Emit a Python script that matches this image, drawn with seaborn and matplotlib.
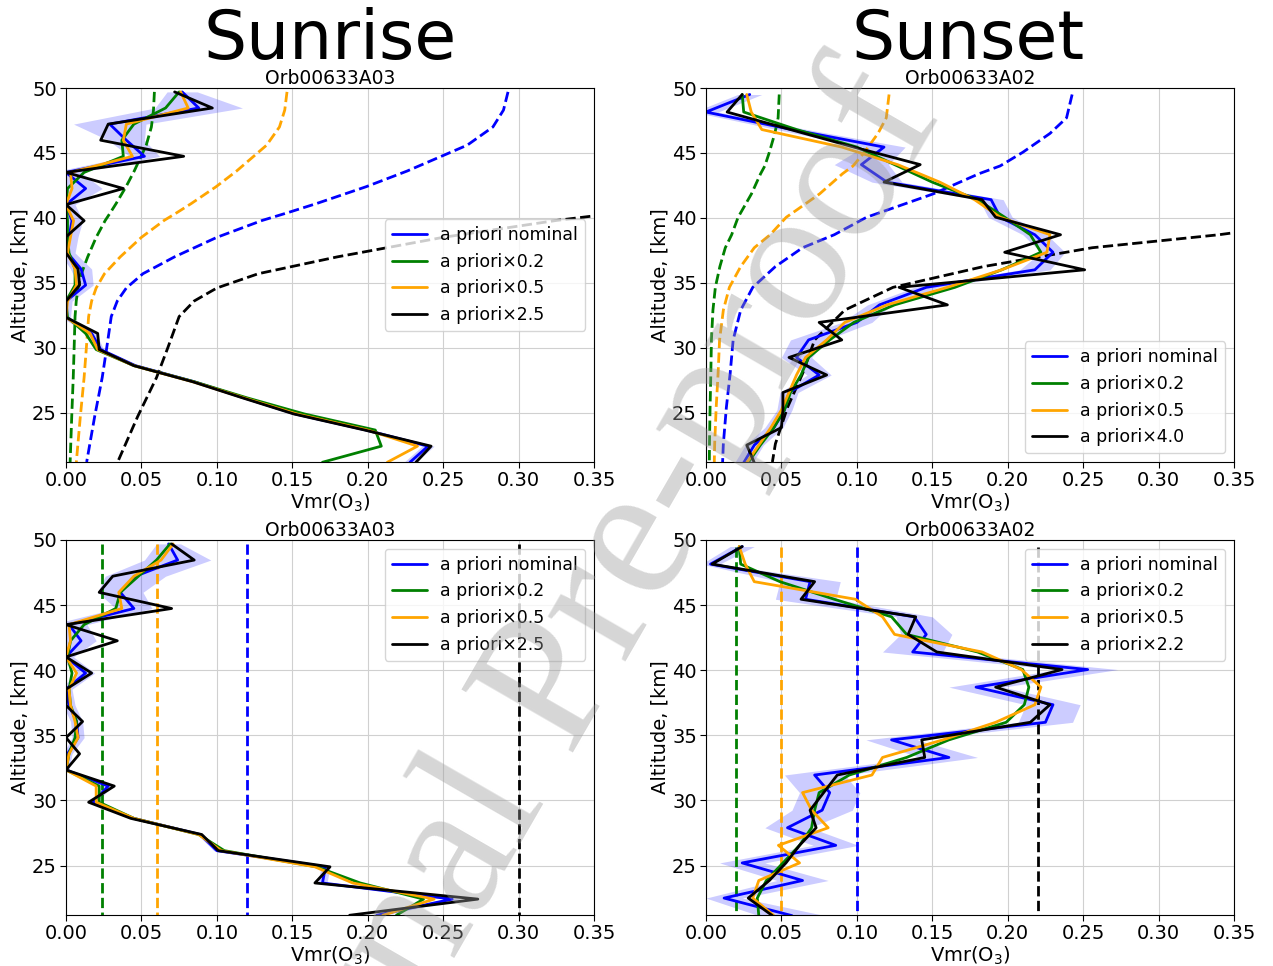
"""Ozone retrievals for orbit 633: sunrise (A03) vs sunset (A02),
with a priori profiles scaled by different factors.
"""
import matplotlib
matplotlib.use('Agg')
import matplotlib.pyplot as plt
import seaborn as sns
import numpy as np

# ---- altitude grids (km) ----
alt_a03 = [49.70, 48.46, 47.22, 45.98, 44.74, 43.50, 42.26, 41.02, 39.78, 38.54, 37.30, 36.06,
           34.82, 33.58, 32.34, 31.10, 29.86, 28.62, 27.38, 26.14, 24.90, 23.66, 22.42, 21.18]
alt_a02 = [49.50, 48.15, 46.80, 45.45, 44.10, 42.75, 41.40, 40.05, 38.70, 37.35, 36.00,
           34.65, 33.30, 31.95, 30.60, 29.25, 27.90, 26.55, 25.20, 23.85, 22.50, 21.15]

# ---- a priori profiles ----
apr_a03_alt = [49.7, 48.3, 47.0, 45.6, 44.8, 43.6, 42.4, 41.1, 40.4, 39.8, 38.5, 37.0,
               35.7, 34.6, 33.6, 32.4, 30.0, 27.7, 24.7, 21.2]
apr_a03_vmr = [0.293, 0.290, 0.283, 0.266, 0.250, 0.226, 0.199, 0.166, 0.147, 0.130, 0.100, 0.072,
               0.051, 0.040, 0.034, 0.030, 0.027, 0.024, 0.019, 0.0137]
apr_a02_alt = [49.5, 47.7, 46.5, 45.05, 44.0, 43.4, 41.85, 40.8, 40.05, 38.7, 37.7, 36.25,
               34.65, 32.9, 30.6, 28.0, 25.4, 22.6, 21.2]
apr_a02_vmr = [0.2427, 0.239, 0.228, 0.210, 0.195, 0.181, 0.1507, 0.125, 0.1065, 0.085, 0.064, 0.046,
               0.031, 0.023, 0.018, 0.016, 0.0135, 0.0115, 0.011]
apr_const_sunrise = 0.12
apr_const_sunset = 0.10

labels_sr = ['a priori nominal', 'a priori×0.2', 'a priori×0.5', 'a priori×2.5']
factors_sr = [1.0, 0.2, 0.5, 2.5]
labels_ss_top = ['a priori nominal', 'a priori×0.2', 'a priori×0.5', 'a priori×4.0']
factors_ss_top = [1.0, 0.2, 0.5, 4.0]
labels_ss_bot = ['a priori nominal', 'a priori×0.2', 'a priori×0.5', 'a priori×2.2']
factors_ss_bot = [1.0, 0.2, 0.5, 2.2]
colors = ['blue', 'green', 'orange', 'black']

# ---- sunrise, profile a priori (top left) ----
sr_top_nom = [0.077, 0.088, 0.029, 0.040, 0.052, 0.000, 0.013, 0.000, 0.004, 0.002, 0.001, 0.010,
              0.013, 0.000, 0.000, 0.017, 0.023, 0.046, 0.085, 0.118, 0.152, 0.199, 0.240, 0.228]
sr_top_x02 = [0.075, 0.066, 0.045, 0.037, 0.038, 0.012, 0.001, 0.000, 0.001, 0.001, 0.002, 0.006,
              0.006, 0.000, 0.001, 0.013, 0.020, 0.045, 0.085, 0.120, 0.158, 0.205, 0.209, 0.170]
sr_top_x05 = [0.076, 0.081, 0.040, 0.038, 0.044, 0.003, 0.004, 0.000, 0.005, 0.003, 0.001, 0.006,
              0.007, 0.001, 0.000, 0.016, 0.021, 0.045, 0.084, 0.118, 0.153, 0.200, 0.233, 0.213]
sr_top_x25 = [0.072, 0.097, 0.028, 0.023, 0.078, 0.000, 0.038, 0.000, 0.012, 0.000, 0.000, 0.008,
              0.009, 0.000, 0.000, 0.021, 0.022, 0.045, 0.084, 0.117, 0.151, 0.198, 0.242, 0.232]
sr_top_err = [0.010, 0.029, 0.024, 0.012, 0.010, 0.010, 0.011, 0.006, 0.007, 0.006, 0.005, 0.007,
              0.005, 0.004, 0.003, 0.003, 0.002, 0.002, 0.002, 0.002, 0.003, 0.003, 0.004, 0.004]

# ---- sunrise, constant a priori (bottom left) ----
sr_bot_nom = [0.068, 0.074, 0.046, 0.036, 0.045, 0.002, 0.010, 0.000, 0.013, 0.000, 0.002, 0.007,
              0.008, 0.001, 0.000, 0.028, 0.018, 0.045, 0.089, 0.100, 0.172, 0.170, 0.256, 0.206]
sr_bot_x02 = [0.069, 0.060, 0.048, 0.036, 0.033, 0.012, 0.003, 0.001, 0.004, 0.002, 0.003, 0.007,
              0.006, 0.002, 0.000, 0.022, 0.022, 0.045, 0.088, 0.105, 0.166, 0.195, 0.237, 0.219]
sr_bot_x05 = [0.071, 0.063, 0.045, 0.035, 0.037, 0.002, 0.003, 0.000, 0.007, 0.002, 0.003, 0.006,
              0.008, 0.002, 0.000, 0.020, 0.020, 0.045, 0.088, 0.103, 0.165, 0.190, 0.244, 0.210]
sr_bot_x25 = [0.070, 0.085, 0.031, 0.022, 0.070, 0.000, 0.034, 0.000, 0.017, 0.000, 0.000, 0.011,
              0.000, 0.009, 0.000, 0.032, 0.015, 0.043, 0.090, 0.101, 0.175, 0.165, 0.273, 0.188]
sr_bot_err = [0.008, 0.022, 0.020, 0.015, 0.012, 0.012, 0.010, 0.005, 0.006, 0.004, 0.004, 0.004,
              0.004, 0.003, 0.002, 0.003, 0.002, 0.002, 0.002, 0.002, 0.003, 0.003, 0.005, 0.005]

# ---- sunset, profile a priori (top right) ----
ss_top_nom = [0.029, 0.000, 0.057, 0.118, 0.103, 0.120, 0.189, 0.195, 0.218, 0.230, 0.218,
              0.146, 0.115, 0.100, 0.068, 0.060, 0.075, 0.055, 0.052, 0.045, 0.032, 0.025]
ss_top_x02 = [0.024, 0.025, 0.060, 0.100, 0.125, 0.150, 0.180, 0.198, 0.215, 0.222, 0.196,
              0.165, 0.125, 0.098, 0.082, 0.068, 0.063, 0.056, 0.052, 0.045, 0.036, 0.028]
ss_top_x05 = [0.027, 0.030, 0.037, 0.090, 0.127, 0.155, 0.178, 0.195, 0.228, 0.226, 0.196,
              0.160, 0.120, 0.092, 0.080, 0.066, 0.060, 0.055, 0.050, 0.043, 0.035, 0.027]
ss_top_x40 = [0.024, 0.014, 0.056, 0.098, 0.142, 0.118, 0.183, 0.192, 0.235, 0.198, 0.251,
              0.128, 0.160, 0.075, 0.090, 0.055, 0.080, 0.051, 0.051, 0.050, 0.027, 0.032]
ss_top_err = [0.008, 0.008, 0.010, 0.014, 0.018, 0.010, 0.008, 0.008, 0.008, 0.008, 0.010,
              0.008, 0.008, 0.010, 0.012, 0.010, 0.008, 0.006, 0.005, 0.006, 0.006, 0.006]

# ---- sunset, constant a priori (bottom right) ----
ss_bot_nom = [0.024, 0.003, 0.069, 0.066, 0.138, 0.146, 0.137, 0.253, 0.179, 0.230, 0.225,
              0.123, 0.161, 0.072, 0.082, 0.077, 0.054, 0.086, 0.024, 0.064, 0.012, 0.057]
ss_bot_x02 = [0.022, 0.023, 0.049, 0.085, 0.123, 0.133, 0.180, 0.210, 0.214, 0.211, 0.199,
              0.161, 0.133, 0.095, 0.075, 0.072, 0.070, 0.062, 0.051, 0.040, 0.034, 0.035]
ss_bot_x05 = [0.022, 0.026, 0.032, 0.099, 0.117, 0.125, 0.183, 0.209, 0.222, 0.218, 0.192,
              0.157, 0.117, 0.110, 0.064, 0.070, 0.081, 0.048, 0.062, 0.035, 0.031, 0.045]
ss_bot_x22 = [0.024, 0.004, 0.072, 0.063, 0.139, 0.134, 0.153, 0.236, 0.192, 0.228, 0.215,
              0.143, 0.145, 0.087, 0.078, 0.069, 0.073, 0.062, 0.053, 0.042, 0.028, 0.044]
ss_bot_err = [0.008, 0.006, 0.020, 0.020, 0.012, 0.017, 0.020, 0.020, 0.018, 0.018, 0.018,
              0.017, 0.019, 0.020, 0.020, 0.020, 0.015, 0.015, 0.015, 0.017, 0.012, 0.022]

sns.set_style('ticks', {'axes.grid': True, 'grid.color': '#d0d0d0', 'axes.edgecolor': 'black',
                        'text.color': 'black', 'axes.labelcolor': 'black',
                        'xtick.color': 'black', 'ytick.color': 'black'})
plt.rcParams['font.family'] = ['DejaVu Sans']

W, H = 1273, 966
fig = plt.figure(figsize=(W / 100, H / 100), dpi=100)


def px_axes(left, top, right, bottom):
    return fig.add_axes([left / W, 1 - bottom / H, (right - left) / W, (bottom - top) / H])


def draw_panel(ax, title, alt, retrievals, err, labels, apr_alt, apr_vmr, factors, legend_loc):
    nom = np.array(retrievals[0])
    ax.fill_betweenx(alt, nom - np.array(err), nom + np.array(err), color='blue', alpha=0.2, lw=0)
    for f, c in zip(factors, colors):
        sns.lineplot(x=np.array(apr_vmr) * f, y=apr_alt, sort=False, estimator=None,
                     color=c, lw=2, linestyle='--', ax=ax)
    for vals, c, lab in zip(retrievals, colors, labels):
        sns.lineplot(x=vals, y=alt, sort=False, estimator=None, color=c, lw=2, label=lab, ax=ax)
    ax.set_xlim(0, 0.35)
    ax.set_ylim(21.2, 50)
    ax.set_xticks(np.arange(0, 0.351, 0.05))
    ax.set_yticks([25, 30, 35, 40, 45, 50])
    ax.tick_params(labelsize=14, length=4, pad=2.5)
    ax.set_xlabel('Vmr(O$_3$)', fontsize=14, labelpad=1)
    ax.set_ylabel('Altitude, [km]', fontsize=14, labelpad=2)
    ax.set_title(title, fontsize=13.5, pad=3)
    ax.legend(loc=legend_loc, fontsize=12.5)


ax1 = px_axes(66, 88, 594, 462)
draw_panel(ax1, 'Orb00633A03', alt_a03, [sr_top_nom, sr_top_x02, sr_top_x05, sr_top_x25],
           sr_top_err, labels_sr, apr_a03_alt, apr_a03_vmr, factors_sr, 'center right')

ax2 = px_axes(706, 88, 1234, 462)
draw_panel(ax2, 'Orb00633A02', alt_a02, [ss_top_nom, ss_top_x02, ss_top_x05, ss_top_x40],
           ss_top_err, labels_ss_top, apr_a02_alt, apr_a02_vmr, factors_ss_top, 'lower right')

ax3 = px_axes(66, 540, 594, 915)
draw_panel(ax3, 'Orb00633A03', alt_a03, [sr_bot_nom, sr_bot_x02, sr_bot_x05, sr_bot_x25],
           sr_bot_err, labels_sr, alt_a03, [apr_const_sunrise] * len(alt_a03), factors_sr,
           'upper right')

ax4 = px_axes(706, 540, 1234, 915)
draw_panel(ax4, 'Orb00633A02', alt_a02, [ss_bot_nom, ss_bot_x02, ss_bot_x05, ss_bot_x22],
           ss_bot_err, labels_ss_bot, alt_a02, [apr_const_sunset] * len(alt_a02), factors_ss_bot,
           'upper right')

fig.text(330 / W, 1 - 40 / H, 'Sunrise', fontsize=49, ha='center', va='center')
fig.text(968 / W, 1 - 40 / H, 'Sunset', fontsize=49, ha='center', va='center')

# journal watermark
fig.text(560 / W, 1 - 680 / H, 'Journal Pre-proof', rotation=60, rotation_mode='anchor',
         fontsize=140, family='Liberation Serif', color='#999999', alpha=0.4,
         ha='center', va='center', zorder=10)

fig.savefig('out.png', dpi=100)
